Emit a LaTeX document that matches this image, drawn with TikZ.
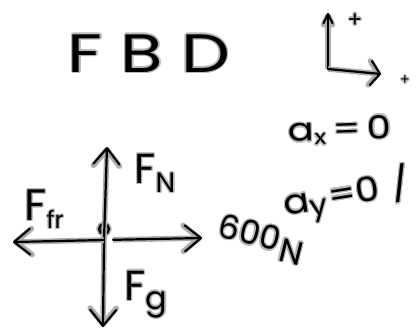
\documentclass[tikz,border=0pt]{standalone}
\usepackage{fontspec}
\usepackage{graphicx}
\setmainfont{Poppins}
\usepackage{contour}
\contourlength{1.3pt}
\contournumber{12}
\usetikzlibrary{arrows.meta}
\newcommand{\sub}[2]{\raisebox{#1}{#2}}
\newcommand{\hw}[1]{\contour{gray!55}{#1}}
\begin{document}
\begin{tikzpicture}[x=1pt,y=-1pt,
  ink/.style={black,line width=2.2pt,line cap=round,line join=round,
    preaction={draw,gray!65,line width=5.5pt}},
  vec/.style={ink,-{Straight Barb[length=16pt,width=26pt,round]}},
  hand/.style={inner sep=0pt,text=black},
  hf/.style={font=\fontsize{#1}{#1}\selectfont},
]
\useasboundingbox (0,0) rectangle (418,330);
\fill[white] (0,0) rectangle (418,330);

% title
\node[hand,font=\fontsize{54}{54}\selectfont\addfontfeature{LetterSpace=26}] (title) at (149,54)
  {\hw{\scalebox{1.28}[1]{FBD}}};

% sign convention axes
\coordinate (ax) at (328,69);
\coordinate (axup) at (328,13);
\coordinate (axright) at (381,74);
\draw[ink,-{Straight Barb[length=9pt,width=9pt,round]}] (ax) -- (axup);
\draw[ink,-{Straight Barb[length=9pt,width=24pt,round]}] (ax) -- (axright);
\node[hand,hf=22] (plusy) at (355,21) {\hw{+}};
\node[hand,hf=14] (plusx) at (405,81) {\hw{+}};

% accelerations
\node[hand,hf=32,rotate=2] (axeq) at (340,131)
  {\hw{\scalebox{1.2}[1]{a\sub{-4pt}{\fontsize{20}{20}\selectfont x}\kern1pt\,=\,0}}};
\node[hand,hf=34,rotate=9] (ayeq) at (347,196)
  {\hw{\scalebox{1.12}[1]{a\sub{-5pt}{\fontsize{28}{28}\selectfont y}\kern2pt=0\,\,/}}};

% free body diagram
\node[circle,ink,draw,fill=black!60,minimum size=10pt,inner sep=0pt] (o) at (104,229) {};
\coordinate (c) at (104,240);
\coordinate (nTip) at (107,147);
\coordinate (gTip) at (103,327);
\coordinate (frTip) at (13,242);
\coordinate (pTip) at (202,238);
\draw[vec] (c) -- (nTip);
\draw[vec] (c) -- (gTip);
\draw[vec] (c) -- (frTip);
\draw[vec,shorten <=9pt] (c) -- (pTip);

% force labels
\node[hand,hf=42] (fn) at (155,174)
  {\hw{F\sub{-9pt}{\fontsize{28}{28}\selectfont N}}};
\node[hand,hf=44] (ffr) at (44,210)
  {\hw{F\sub{-8pt}{\fontsize{24}{24}\selectfont fr}}};
\node[hand,hf=42] (fg) at (146,295)
  {\hw{F\sub{-9pt}{\fontsize{32}{32}\selectfont g}}};
\node[hand,hf=33,rotate=-14] (app) at (261,240)
  {\hw{600\kern2pt\sub{-8pt}{N}}};
\end{tikzpicture}
\end{document}
